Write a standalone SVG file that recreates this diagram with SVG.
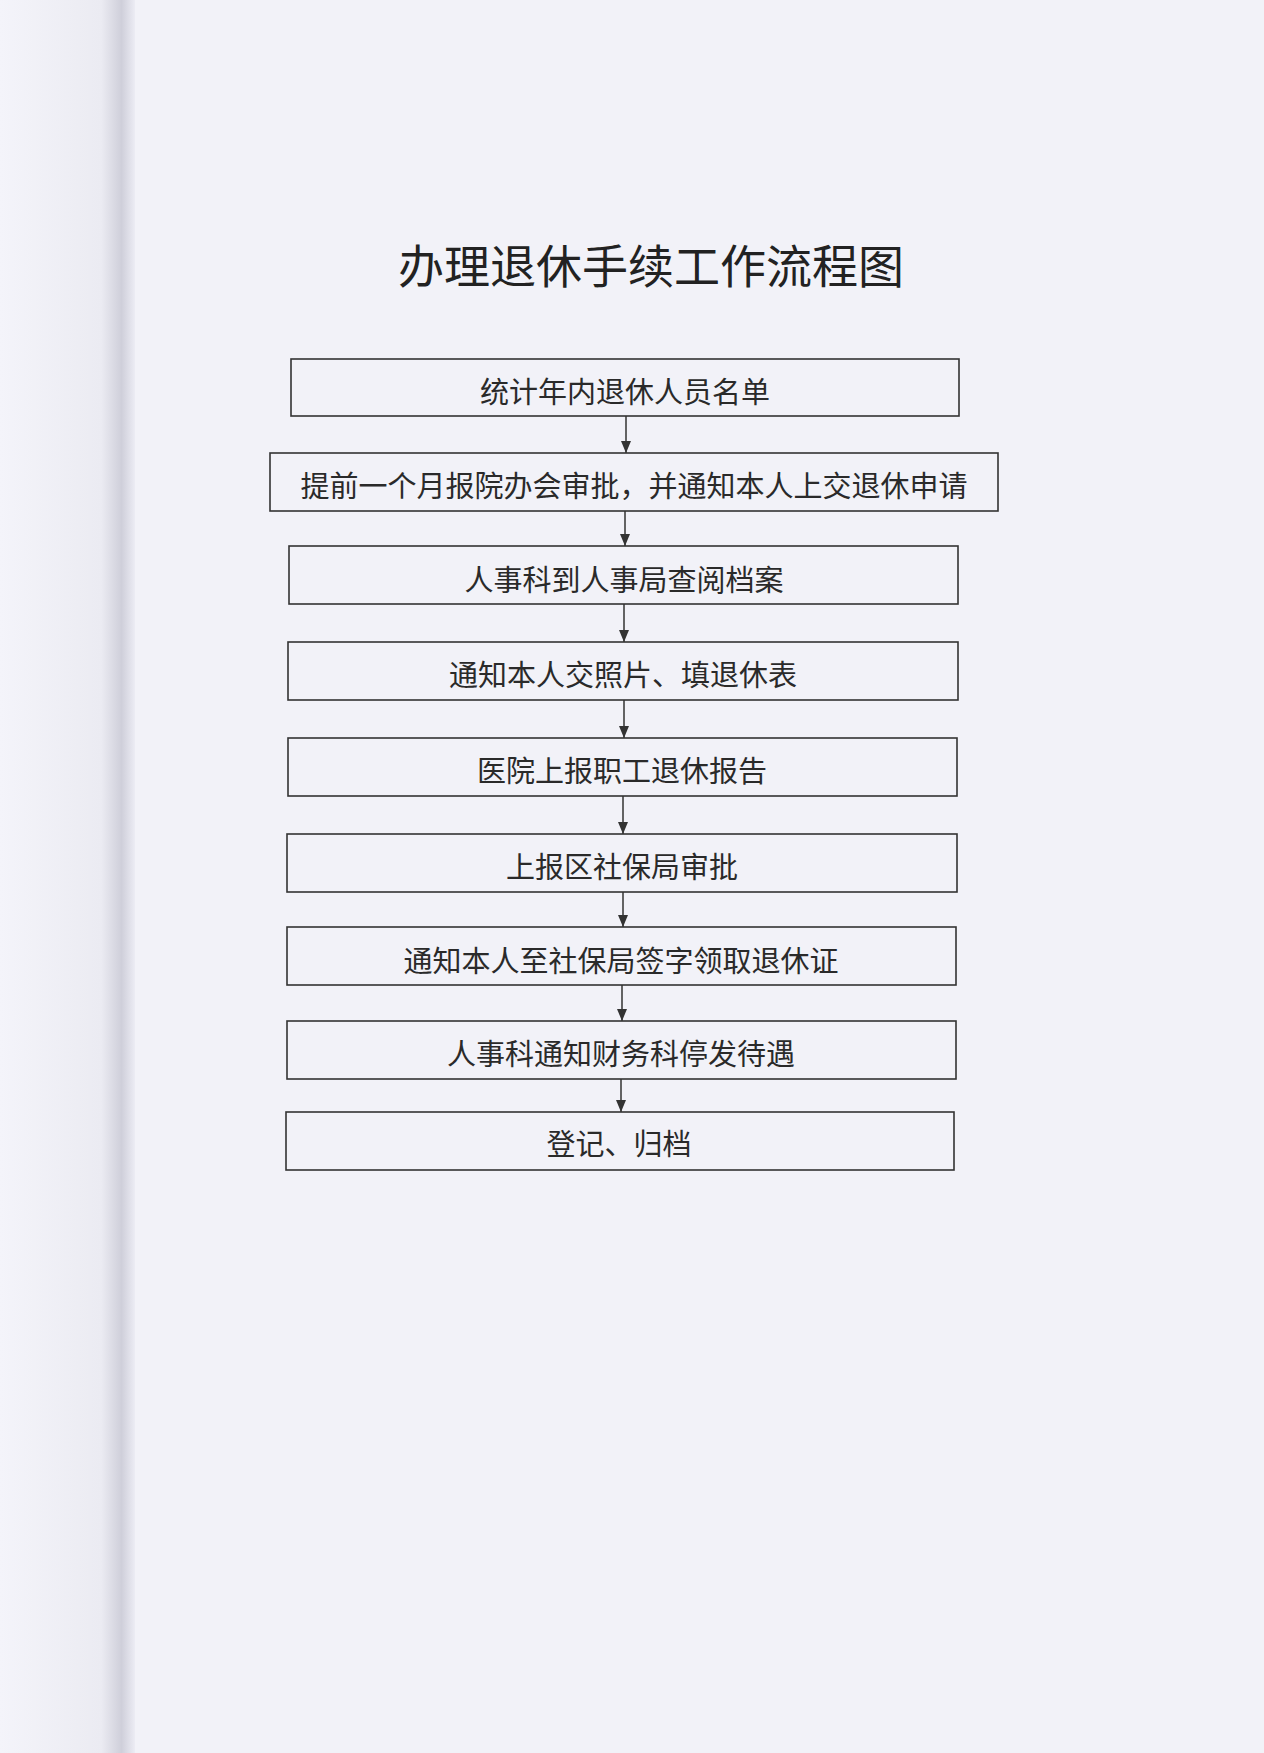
<svg xmlns="http://www.w3.org/2000/svg" width="1264" height="1753" viewBox="0 0 1264 1753">
<defs>
<linearGradient id="spine" x1="0" y1="0" x2="1" y2="0">
<stop offset="0" stop-color="#f4f4fa"/>
<stop offset="0.75" stop-color="#ebebf2"/>
<stop offset="0.9" stop-color="#cfcfda"/>
<stop offset="1" stop-color="#ececf4"/>
</linearGradient>
<marker id="ah" markerWidth="12" markerHeight="10" refX="12" refY="5" orient="auto" markerUnits="userSpaceOnUse" viewBox="0 0 12 10">
<path d="M0,0 L12,5 L0,10 Z" fill="#333"/>
</marker>
</defs>
<style>
.box{fill:none;stroke:#333;stroke-width:1.6}
.lbl{font-family:"Noto Sans CJK SC","Noto Sans CJK TC",sans-serif;font-size:29px;fill:#2a2a2a;text-anchor:middle;dominant-baseline:central}
.title{font-family:"Noto Sans CJK SC",sans-serif;font-size:46px;fill:#222;text-anchor:middle;dominant-baseline:central}
.edge{stroke:#333;stroke-width:1.5;fill:none;marker-end:url(#ah)}
</style>
<rect x="0" y="0" width="1264" height="1753" fill="#f2f2f8"/>
<rect x="0" y="0" width="135" height="1753" fill="url(#spine)"/>
<text class="title" x="651" y="263">办理退休手续工作流程图</text>
<g id="connectors">
<line class="edge" x1="626" y1="416" x2="626" y2="453"/>
<line class="edge" x1="625" y1="511" x2="625" y2="546"/>
<line class="edge" x1="624" y1="604" x2="624" y2="642"/>
<line class="edge" x1="624" y1="700" x2="624" y2="738"/>
<line class="edge" x1="623" y1="796" x2="623" y2="834"/>
<line class="edge" x1="623" y1="892" x2="623" y2="927"/>
<line class="edge" x1="622" y1="985" x2="622" y2="1021"/>
<line class="edge" x1="621" y1="1079" x2="621" y2="1112"/>
</g>
<g id="n1"><rect class="box" x="291" y="359" width="668" height="57"/><text class="lbl" x="625" y="390">统计年内退休人员名单</text></g>
<g id="n2"><rect class="box" x="270" y="453" width="728" height="58"/><text class="lbl" x="634" y="484">提前一个月报院办会审批，并通知本人上交退休申请</text></g>
<g id="n3"><rect class="box" x="289" y="546" width="669" height="58"/><text class="lbl" x="624" y="578">人事科到人事局查阅档案</text></g>
<g id="n4"><rect class="box" x="288" y="642" width="670" height="58"/><text class="lbl" x="623" y="673">通知本人交照片、填退休表</text></g>
<g id="n5"><rect class="box" x="288" y="738" width="669" height="58"/><text class="lbl" x="622" y="769">医院上报职工退休报告</text></g>
<g id="n6"><rect class="box" x="287" y="834" width="670" height="58"/><text class="lbl" x="622" y="865">上报区社保局审批</text></g>
<g id="n7"><rect class="box" x="287" y="927" width="669" height="58"/><text class="lbl" x="621" y="959">通知本人至社保局签字领取退休证</text></g>
<g id="n8"><rect class="box" x="287" y="1021" width="669" height="58"/><text class="lbl" x="621" y="1052">人事科通知财务科停发待遇</text></g>
<g id="n9"><rect class="box" x="286" y="1112" width="668" height="58"/><text class="lbl" x="619" y="1142">登记、归档</text></g>
</svg>
